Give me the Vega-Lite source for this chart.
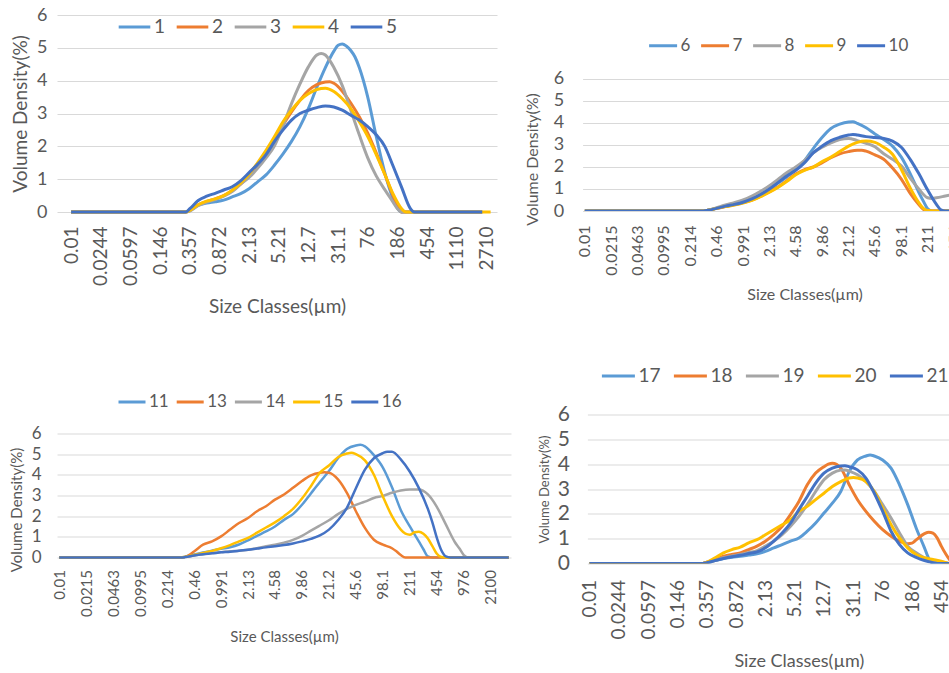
{
"$schema": "https://vega.github.io/schema/vega-lite/v6.json",
"padding": {"left": 9, "top": 6, "right": 0, "bottom": 0},
"background": "white",
"config": {
  "font": "Lato",
  "view": {"stroke": null},
  "axis": {"labelColor": "#595959", "titleColor": "#595959", "titleFontWeight": "normal", "domain": false, "ticks": false, "tickSize": 0, "gridColor": "#D9D9D9", "gridWidth": 1, "labelFlush": false, "labelOverlap": false},
  "legend": {"labelColor": "#595959", "symbolType": "stroke", "symbolStrokeWidth": 3, "padding": 0, "labelOffset": 2, "direction": "horizontal", "orient": "none"},
  "line": {"strokeWidth": 3, "interpolate": "monotone"}
},
"data": {"values": [
{"p":1,"s":"1","d":0.01,"v":0},{"p":1,"s":"1","d":0.314,"v":0},{"p":1,"s":"1","d":0.357,"v":0.05},{"p":1,"s":"1","d":0.46,"v":0.2},{"p":1,"s":"1","d":0.594,"v":0.27},{"p":1,"s":"1","d":0.767,"v":0.31},{"p":1,"s":"1","d":0.991,"v":0.36},{"p":1,"s":"1","d":1.28,"v":0.46},{"p":1,"s":"1","d":1.65,"v":0.56},{"p":1,"s":"1","d":2.13,"v":0.71},{"p":1,"s":"1","d":2.75,"v":0.92},{"p":1,"s":"1","d":3.55,"v":1.13},{"p":1,"s":"1","d":4.58,"v":1.43},{"p":1,"s":"1","d":5.92,"v":1.77},{"p":1,"s":"1","d":7.64,"v":2.15},{"p":1,"s":"1","d":9.86,"v":2.6},{"p":1,"s":"1","d":12.7,"v":3.15},{"p":1,"s":"1","d":16.4,"v":3.8},{"p":1,"s":"1","d":21.2,"v":4.4},{"p":1,"s":"1","d":27.4,"v":4.9},{"p":1,"s":"1","d":31.1,"v":5.08},{"p":1,"s":"1","d":35.3,"v":5.12},{"p":1,"s":"1","d":40.1,"v":5.05},{"p":1,"s":"1","d":45.6,"v":4.92},{"p":1,"s":"1","d":51.8,"v":4.72},{"p":1,"s":"1","d":58.9,"v":4.4},{"p":1,"s":"1","d":76,"v":3.5},{"p":1,"s":"1","d":98.1,"v":2.3},{"p":1,"s":"1","d":127,"v":1.2},{"p":1,"s":"1","d":163,"v":0.4},{"p":1,"s":"1","d":186,"v":0.12},{"p":1,"s":"1","d":211,"v":0},{"p":1,"s":"1","d":2390,"v":0},
{"p":1,"s":"2","d":0.01,"v":0},{"p":1,"s":"2","d":0.314,"v":0},{"p":1,"s":"2","d":0.357,"v":0.05},{"p":1,"s":"2","d":0.46,"v":0.22},{"p":1,"s":"2","d":0.594,"v":0.32},{"p":1,"s":"2","d":0.767,"v":0.4},{"p":1,"s":"2","d":0.991,"v":0.5},{"p":1,"s":"2","d":1.28,"v":0.65},{"p":1,"s":"2","d":1.65,"v":0.85},{"p":1,"s":"2","d":2.13,"v":1.1},{"p":1,"s":"2","d":2.75,"v":1.45},{"p":1,"s":"2","d":3.55,"v":1.8},{"p":1,"s":"2","d":4.58,"v":2.2},{"p":1,"s":"2","d":5.92,"v":2.65},{"p":1,"s":"2","d":7.64,"v":3.05},{"p":1,"s":"2","d":9.86,"v":3.4},{"p":1,"s":"2","d":12.7,"v":3.7},{"p":1,"s":"2","d":16.4,"v":3.88},{"p":1,"s":"2","d":21.2,"v":3.96},{"p":1,"s":"2","d":24.1,"v":3.97},{"p":1,"s":"2","d":27.4,"v":3.92},{"p":1,"s":"2","d":35.3,"v":3.68},{"p":1,"s":"2","d":45.6,"v":3.32},{"p":1,"s":"2","d":58.9,"v":2.9},{"p":1,"s":"2","d":76,"v":2.4},{"p":1,"s":"2","d":98.1,"v":1.8},{"p":1,"s":"2","d":127,"v":1.15},{"p":1,"s":"2","d":163,"v":0.5},{"p":1,"s":"2","d":186,"v":0.2},{"p":1,"s":"2","d":211,"v":0},{"p":1,"s":"2","d":2390,"v":0},
{"p":1,"s":"3","d":0.01,"v":0},{"p":1,"s":"3","d":0.314,"v":0},{"p":1,"s":"3","d":0.357,"v":0.03},{"p":1,"s":"3","d":0.46,"v":0.2},{"p":1,"s":"3","d":0.594,"v":0.3},{"p":1,"s":"3","d":0.767,"v":0.38},{"p":1,"s":"3","d":0.991,"v":0.48},{"p":1,"s":"3","d":1.28,"v":0.62},{"p":1,"s":"3","d":1.65,"v":0.85},{"p":1,"s":"3","d":2.13,"v":1.05},{"p":1,"s":"3","d":2.75,"v":1.33},{"p":1,"s":"3","d":3.55,"v":1.65},{"p":1,"s":"3","d":4.58,"v":2.02},{"p":1,"s":"3","d":5.92,"v":2.62},{"p":1,"s":"3","d":7.64,"v":3.3},{"p":1,"s":"3","d":9.86,"v":3.9},{"p":1,"s":"3","d":12.7,"v":4.42},{"p":1,"s":"3","d":16.4,"v":4.78},{"p":1,"s":"3","d":18.7,"v":4.83},{"p":1,"s":"3","d":21.2,"v":4.78},{"p":1,"s":"3","d":27.4,"v":4.4},{"p":1,"s":"3","d":35.3,"v":3.85},{"p":1,"s":"3","d":45.6,"v":3.1},{"p":1,"s":"3","d":58.9,"v":2.35},{"p":1,"s":"3","d":76,"v":1.65},{"p":1,"s":"3","d":98.1,"v":1.1},{"p":1,"s":"3","d":127,"v":0.68},{"p":1,"s":"3","d":163,"v":0.3},{"p":1,"s":"3","d":186,"v":0.1},{"p":1,"s":"3","d":211,"v":0},{"p":1,"s":"3","d":2390,"v":0},
{"p":1,"s":"4","d":0.01,"v":0},{"p":1,"s":"4","d":0.314,"v":0},{"p":1,"s":"4","d":0.357,"v":0.05},{"p":1,"s":"4","d":0.46,"v":0.22},{"p":1,"s":"4","d":0.594,"v":0.33},{"p":1,"s":"4","d":0.767,"v":0.4},{"p":1,"s":"4","d":0.991,"v":0.5},{"p":1,"s":"4","d":1.28,"v":0.66},{"p":1,"s":"4","d":1.65,"v":0.88},{"p":1,"s":"4","d":2.13,"v":1.15},{"p":1,"s":"4","d":2.75,"v":1.5},{"p":1,"s":"4","d":3.55,"v":1.88},{"p":1,"s":"4","d":4.58,"v":2.3},{"p":1,"s":"4","d":5.92,"v":2.75},{"p":1,"s":"4","d":7.64,"v":3.1},{"p":1,"s":"4","d":9.86,"v":3.4},{"p":1,"s":"4","d":12.7,"v":3.6},{"p":1,"s":"4","d":16.4,"v":3.73},{"p":1,"s":"4","d":21.2,"v":3.77},{"p":1,"s":"4","d":27.4,"v":3.67},{"p":1,"s":"4","d":35.3,"v":3.45},{"p":1,"s":"4","d":45.6,"v":3.15},{"p":1,"s":"4","d":58.9,"v":2.75},{"p":1,"s":"4","d":76,"v":2.3},{"p":1,"s":"4","d":98.1,"v":1.75},{"p":1,"s":"4","d":127,"v":1.15},{"p":1,"s":"4","d":163,"v":0.55},{"p":1,"s":"4","d":211,"v":0.1},{"p":1,"s":"4","d":240,"v":0},{"p":1,"s":"4","d":3080,"v":0},
{"p":1,"s":"5","d":0.01,"v":0},{"p":1,"s":"5","d":0.314,"v":0},{"p":1,"s":"5","d":0.357,"v":0.1},{"p":1,"s":"5","d":0.46,"v":0.35},{"p":1,"s":"5","d":0.594,"v":0.48},{"p":1,"s":"5","d":0.767,"v":0.57},{"p":1,"s":"5","d":0.991,"v":0.67},{"p":1,"s":"5","d":1.28,"v":0.77},{"p":1,"s":"5","d":1.65,"v":0.95},{"p":1,"s":"5","d":2.13,"v":1.2},{"p":1,"s":"5","d":2.75,"v":1.45},{"p":1,"s":"5","d":3.55,"v":1.75},{"p":1,"s":"5","d":4.58,"v":2.15},{"p":1,"s":"5","d":5.92,"v":2.5},{"p":1,"s":"5","d":7.64,"v":2.8},{"p":1,"s":"5","d":9.86,"v":3.0},{"p":1,"s":"5","d":12.7,"v":3.1},{"p":1,"s":"5","d":16.4,"v":3.18},{"p":1,"s":"5","d":21.2,"v":3.23},{"p":1,"s":"5","d":27.4,"v":3.2},{"p":1,"s":"5","d":35.3,"v":3.1},{"p":1,"s":"5","d":45.6,"v":2.95},{"p":1,"s":"5","d":58.9,"v":2.8},{"p":1,"s":"5","d":76,"v":2.6},{"p":1,"s":"5","d":98.1,"v":2.35},{"p":1,"s":"5","d":127,"v":2.0},{"p":1,"s":"5","d":163,"v":1.4},{"p":1,"s":"5","d":211,"v":0.75},{"p":1,"s":"5","d":272,"v":0.12},{"p":1,"s":"5","d":310,"v":0},{"p":1,"s":"5","d":2390,"v":0},
{"p":2,"s":"6","d":0.01,"v":0},{"p":2,"s":"6","d":0.314,"v":0},{"p":2,"s":"6","d":0.357,"v":0.03},{"p":2,"s":"6","d":0.46,"v":0.13},{"p":2,"s":"6","d":0.594,"v":0.22},{"p":2,"s":"6","d":0.767,"v":0.3},{"p":2,"s":"6","d":0.991,"v":0.42},{"p":2,"s":"6","d":1.28,"v":0.55},{"p":2,"s":"6","d":1.65,"v":0.75},{"p":2,"s":"6","d":2.13,"v":0.98},{"p":2,"s":"6","d":2.75,"v":1.28},{"p":2,"s":"6","d":3.55,"v":1.55},{"p":2,"s":"6","d":4.58,"v":1.9},{"p":2,"s":"6","d":5.92,"v":2.3},{"p":2,"s":"6","d":7.64,"v":2.85},{"p":2,"s":"6","d":9.86,"v":3.35},{"p":2,"s":"6","d":12.7,"v":3.75},{"p":2,"s":"6","d":16.4,"v":3.95},{"p":2,"s":"6","d":21.2,"v":4.05},{"p":2,"s":"6","d":24.1,"v":4.06},{"p":2,"s":"6","d":27.4,"v":3.98},{"p":2,"s":"6","d":35.3,"v":3.78},{"p":2,"s":"6","d":45.6,"v":3.5},{"p":2,"s":"6","d":58.9,"v":3.25},{"p":2,"s":"6","d":76,"v":2.95},{"p":2,"s":"6","d":98.1,"v":2.45},{"p":2,"s":"6","d":127,"v":1.7},{"p":2,"s":"6","d":163,"v":0.85},{"p":2,"s":"6","d":186,"v":0.45},{"p":2,"s":"6","d":211,"v":0.1},{"p":2,"s":"6","d":240,"v":0},{"p":2,"s":"6","d":2390,"v":0},
{"p":2,"s":"7","d":0.01,"v":0},{"p":2,"s":"7","d":0.314,"v":0},{"p":2,"s":"7","d":0.357,"v":0.03},{"p":2,"s":"7","d":0.46,"v":0.12},{"p":2,"s":"7","d":0.594,"v":0.2},{"p":2,"s":"7","d":0.767,"v":0.28},{"p":2,"s":"7","d":0.991,"v":0.38},{"p":2,"s":"7","d":1.28,"v":0.5},{"p":2,"s":"7","d":1.65,"v":0.68},{"p":2,"s":"7","d":2.13,"v":0.88},{"p":2,"s":"7","d":2.75,"v":1.1},{"p":2,"s":"7","d":3.55,"v":1.38},{"p":2,"s":"7","d":4.58,"v":1.68},{"p":2,"s":"7","d":5.92,"v":1.88},{"p":2,"s":"7","d":7.64,"v":2.0},{"p":2,"s":"7","d":9.86,"v":2.2},{"p":2,"s":"7","d":12.7,"v":2.42},{"p":2,"s":"7","d":16.4,"v":2.6},{"p":2,"s":"7","d":21.2,"v":2.7},{"p":2,"s":"7","d":27.4,"v":2.76},{"p":2,"s":"7","d":31.1,"v":2.76},{"p":2,"s":"7","d":35.3,"v":2.72},{"p":2,"s":"7","d":45.6,"v":2.55},{"p":2,"s":"7","d":58.9,"v":2.35},{"p":2,"s":"7","d":76,"v":1.95},{"p":2,"s":"7","d":98.1,"v":1.45},{"p":2,"s":"7","d":127,"v":0.8},{"p":2,"s":"7","d":163,"v":0.3},{"p":2,"s":"7","d":186,"v":0.08},{"p":2,"s":"7","d":211,"v":0},{"p":2,"s":"7","d":2390,"v":0},
{"p":2,"s":"8","d":0.01,"v":0},{"p":2,"s":"8","d":0.314,"v":0},{"p":2,"s":"8","d":0.357,"v":0.04},{"p":2,"s":"8","d":0.46,"v":0.15},{"p":2,"s":"8","d":0.594,"v":0.28},{"p":2,"s":"8","d":0.767,"v":0.38},{"p":2,"s":"8","d":0.991,"v":0.5},{"p":2,"s":"8","d":1.28,"v":0.68},{"p":2,"s":"8","d":1.65,"v":0.9},{"p":2,"s":"8","d":2.13,"v":1.15},{"p":2,"s":"8","d":2.75,"v":1.45},{"p":2,"s":"8","d":3.55,"v":1.75},{"p":2,"s":"8","d":4.58,"v":2.0},{"p":2,"s":"8","d":5.92,"v":2.3},{"p":2,"s":"8","d":7.64,"v":2.65},{"p":2,"s":"8","d":9.86,"v":2.9},{"p":2,"s":"8","d":12.7,"v":3.1},{"p":2,"s":"8","d":16.4,"v":3.25},{"p":2,"s":"8","d":21.2,"v":3.3},{"p":2,"s":"8","d":27.4,"v":3.2},{"p":2,"s":"8","d":35.3,"v":3.08},{"p":2,"s":"8","d":45.6,"v":2.92},{"p":2,"s":"8","d":58.9,"v":2.6},{"p":2,"s":"8","d":76,"v":2.35},{"p":2,"s":"8","d":98.1,"v":2.05},{"p":2,"s":"8","d":127,"v":1.5},{"p":2,"s":"8","d":163,"v":1.0},{"p":2,"s":"8","d":211,"v":0.6},{"p":2,"s":"8","d":240,"v":0.57},{"p":2,"s":"8","d":272,"v":0.6},{"p":2,"s":"8","d":352,"v":0.68},{"p":2,"s":"8","d":454,"v":0.76},
{"p":2,"s":"9","d":0.01,"v":0},{"p":2,"s":"9","d":0.314,"v":0},{"p":2,"s":"9","d":0.357,"v":0.03},{"p":2,"s":"9","d":0.46,"v":0.12},{"p":2,"s":"9","d":0.594,"v":0.2},{"p":2,"s":"9","d":0.767,"v":0.27},{"p":2,"s":"9","d":0.991,"v":0.36},{"p":2,"s":"9","d":1.28,"v":0.48},{"p":2,"s":"9","d":1.65,"v":0.65},{"p":2,"s":"9","d":2.13,"v":0.85},{"p":2,"s":"9","d":2.75,"v":1.08},{"p":2,"s":"9","d":3.55,"v":1.35},{"p":2,"s":"9","d":4.58,"v":1.65},{"p":2,"s":"9","d":5.92,"v":1.85},{"p":2,"s":"9","d":7.64,"v":2.0},{"p":2,"s":"9","d":9.86,"v":2.25},{"p":2,"s":"9","d":12.7,"v":2.45},{"p":2,"s":"9","d":16.4,"v":2.7},{"p":2,"s":"9","d":21.2,"v":2.95},{"p":2,"s":"9","d":27.4,"v":3.12},{"p":2,"s":"9","d":35.3,"v":3.18},{"p":2,"s":"9","d":45.6,"v":3.12},{"p":2,"s":"9","d":58.9,"v":2.9},{"p":2,"s":"9","d":76,"v":2.58},{"p":2,"s":"9","d":98.1,"v":1.9},{"p":2,"s":"9","d":127,"v":1.05},{"p":2,"s":"9","d":163,"v":0.38},{"p":2,"s":"9","d":186,"v":0.12},{"p":2,"s":"9","d":211,"v":0.02},{"p":2,"s":"9","d":240,"v":0},{"p":2,"s":"9","d":2390,"v":0},
{"p":2,"s":"10","d":0.01,"v":0},{"p":2,"s":"10","d":0.314,"v":0},{"p":2,"s":"10","d":0.357,"v":0.03},{"p":2,"s":"10","d":0.46,"v":0.12},{"p":2,"s":"10","d":0.594,"v":0.22},{"p":2,"s":"10","d":0.767,"v":0.3},{"p":2,"s":"10","d":0.991,"v":0.4},{"p":2,"s":"10","d":1.28,"v":0.55},{"p":2,"s":"10","d":1.65,"v":0.75},{"p":2,"s":"10","d":2.13,"v":1.0},{"p":2,"s":"10","d":2.75,"v":1.3},{"p":2,"s":"10","d":3.55,"v":1.6},{"p":2,"s":"10","d":4.58,"v":1.85},{"p":2,"s":"10","d":5.92,"v":2.2},{"p":2,"s":"10","d":7.64,"v":2.65},{"p":2,"s":"10","d":9.86,"v":2.95},{"p":2,"s":"10","d":12.7,"v":3.2},{"p":2,"s":"10","d":16.4,"v":3.35},{"p":2,"s":"10","d":21.2,"v":3.45},{"p":2,"s":"10","d":24.1,"v":3.48},{"p":2,"s":"10","d":27.4,"v":3.45},{"p":2,"s":"10","d":35.3,"v":3.38},{"p":2,"s":"10","d":45.6,"v":3.34},{"p":2,"s":"10","d":58.9,"v":3.3},{"p":2,"s":"10","d":76,"v":3.18},{"p":2,"s":"10","d":98.1,"v":2.9},{"p":2,"s":"10","d":127,"v":2.35},{"p":2,"s":"10","d":163,"v":1.7},{"p":2,"s":"10","d":211,"v":0.95},{"p":2,"s":"10","d":272,"v":0.3},{"p":2,"s":"10","d":310,"v":0.05},{"p":2,"s":"10","d":352,"v":0},{"p":2,"s":"10","d":2390,"v":0},
{"p":3,"s":"11","d":0.01,"v":0},{"p":3,"s":"11","d":0.314,"v":0},{"p":3,"s":"11","d":0.357,"v":0.03},{"p":3,"s":"11","d":0.46,"v":0.15},{"p":3,"s":"11","d":0.594,"v":0.24},{"p":3,"s":"11","d":0.767,"v":0.33},{"p":3,"s":"11","d":0.991,"v":0.42},{"p":3,"s":"11","d":1.28,"v":0.5},{"p":3,"s":"11","d":1.65,"v":0.63},{"p":3,"s":"11","d":2.13,"v":0.83},{"p":3,"s":"11","d":2.75,"v":1.05},{"p":3,"s":"11","d":3.55,"v":1.26},{"p":3,"s":"11","d":4.58,"v":1.5},{"p":3,"s":"11","d":5.92,"v":1.82},{"p":3,"s":"11","d":7.64,"v":2.1},{"p":3,"s":"11","d":9.86,"v":2.55},{"p":3,"s":"11","d":12.7,"v":3.1},{"p":3,"s":"11","d":16.4,"v":3.65},{"p":3,"s":"11","d":21.2,"v":4.18},{"p":3,"s":"11","d":27.4,"v":4.8},{"p":3,"s":"11","d":35.3,"v":5.25},{"p":3,"s":"11","d":45.6,"v":5.42},{"p":3,"s":"11","d":51.8,"v":5.45},{"p":3,"s":"11","d":58.9,"v":5.38},{"p":3,"s":"11","d":76,"v":4.95},{"p":3,"s":"11","d":98.1,"v":4.35},{"p":3,"s":"11","d":127,"v":3.4},{"p":3,"s":"11","d":163,"v":2.3},{"p":3,"s":"11","d":211,"v":1.5},{"p":3,"s":"11","d":272,"v":0.78},{"p":3,"s":"11","d":310,"v":0.4},{"p":3,"s":"11","d":352,"v":0.05},{"p":3,"s":"11","d":400,"v":0},{"p":3,"s":"11","d":3500,"v":0},
{"p":3,"s":"13","d":0.01,"v":0},{"p":3,"s":"13","d":0.314,"v":0},{"p":3,"s":"13","d":0.357,"v":0.03},{"p":3,"s":"13","d":0.46,"v":0.29},{"p":3,"s":"13","d":0.594,"v":0.62},{"p":3,"s":"13","d":0.767,"v":0.78},{"p":3,"s":"13","d":0.991,"v":1.02},{"p":3,"s":"13","d":1.28,"v":1.35},{"p":3,"s":"13","d":1.65,"v":1.67},{"p":3,"s":"13","d":2.13,"v":1.91},{"p":3,"s":"13","d":2.75,"v":2.24},{"p":3,"s":"13","d":3.55,"v":2.48},{"p":3,"s":"13","d":4.58,"v":2.8},{"p":3,"s":"13","d":5.92,"v":3.05},{"p":3,"s":"13","d":7.64,"v":3.37},{"p":3,"s":"13","d":9.86,"v":3.7},{"p":3,"s":"13","d":12.7,"v":3.97},{"p":3,"s":"13","d":16.4,"v":4.1},{"p":3,"s":"13","d":18.7,"v":4.12},{"p":3,"s":"13","d":21.2,"v":4.1},{"p":3,"s":"13","d":27.4,"v":3.78},{"p":3,"s":"13","d":35.3,"v":3.13},{"p":3,"s":"13","d":45.6,"v":2.24},{"p":3,"s":"13","d":58.9,"v":1.43},{"p":3,"s":"13","d":76,"v":0.86},{"p":3,"s":"13","d":98.1,"v":0.62},{"p":3,"s":"13","d":127,"v":0.45},{"p":3,"s":"13","d":144,"v":0.3},{"p":3,"s":"13","d":163,"v":0.12},{"p":3,"s":"13","d":186,"v":0},{"p":3,"s":"13","d":3500,"v":0},
{"p":3,"s":"14","d":0.01,"v":0},{"p":3,"s":"14","d":0.314,"v":0},{"p":3,"s":"14","d":0.357,"v":0.02},{"p":3,"s":"14","d":0.46,"v":0.1},{"p":3,"s":"14","d":0.594,"v":0.16},{"p":3,"s":"14","d":0.767,"v":0.22},{"p":3,"s":"14","d":0.991,"v":0.26},{"p":3,"s":"14","d":1.28,"v":0.3},{"p":3,"s":"14","d":1.65,"v":0.33},{"p":3,"s":"14","d":2.13,"v":0.38},{"p":3,"s":"14","d":2.75,"v":0.45},{"p":3,"s":"14","d":3.55,"v":0.55},{"p":3,"s":"14","d":4.58,"v":0.62},{"p":3,"s":"14","d":5.92,"v":0.72},{"p":3,"s":"14","d":7.64,"v":0.85},{"p":3,"s":"14","d":9.86,"v":1.05},{"p":3,"s":"14","d":12.7,"v":1.3},{"p":3,"s":"14","d":16.4,"v":1.55},{"p":3,"s":"14","d":21.2,"v":1.8},{"p":3,"s":"14","d":27.4,"v":2.1},{"p":3,"s":"14","d":35.3,"v":2.35},{"p":3,"s":"14","d":45.6,"v":2.55},{"p":3,"s":"14","d":58.9,"v":2.7},{"p":3,"s":"14","d":76,"v":2.88},{"p":3,"s":"14","d":98.1,"v":2.98},{"p":3,"s":"14","d":127,"v":3.13},{"p":3,"s":"14","d":163,"v":3.24},{"p":3,"s":"14","d":211,"v":3.29},{"p":3,"s":"14","d":272,"v":3.29},{"p":3,"s":"14","d":352,"v":3.05},{"p":3,"s":"14","d":454,"v":2.45},{"p":3,"s":"14","d":586,"v":1.6},{"p":3,"s":"14","d":756,"v":0.75},{"p":3,"s":"14","d":859,"v":0.45},{"p":3,"s":"14","d":976,"v":0.12},{"p":3,"s":"14","d":1110,"v":0},{"p":3,"s":"14","d":3500,"v":0},
{"p":3,"s":"15","d":0.01,"v":0},{"p":3,"s":"15","d":0.314,"v":0},{"p":3,"s":"15","d":0.357,"v":0.03},{"p":3,"s":"15","d":0.46,"v":0.12},{"p":3,"s":"15","d":0.594,"v":0.22},{"p":3,"s":"15","d":0.767,"v":0.32},{"p":3,"s":"15","d":0.991,"v":0.45},{"p":3,"s":"15","d":1.28,"v":0.6},{"p":3,"s":"15","d":1.65,"v":0.78},{"p":3,"s":"15","d":2.13,"v":0.95},{"p":3,"s":"15","d":2.75,"v":1.2},{"p":3,"s":"15","d":3.55,"v":1.45},{"p":3,"s":"15","d":4.58,"v":1.7},{"p":3,"s":"15","d":5.92,"v":2.0},{"p":3,"s":"15","d":7.64,"v":2.35},{"p":3,"s":"15","d":9.86,"v":2.85},{"p":3,"s":"15","d":12.7,"v":3.45},{"p":3,"s":"15","d":16.4,"v":4.1},{"p":3,"s":"15","d":21.2,"v":4.45},{"p":3,"s":"15","d":27.4,"v":4.85},{"p":3,"s":"15","d":35.3,"v":5.03},{"p":3,"s":"15","d":40.1,"v":5.07},{"p":3,"s":"15","d":45.6,"v":5.0},{"p":3,"s":"15","d":58.9,"v":4.7},{"p":3,"s":"15","d":76,"v":4.0},{"p":3,"s":"15","d":98.1,"v":2.95},{"p":3,"s":"15","d":127,"v":2.0},{"p":3,"s":"15","d":163,"v":1.35},{"p":3,"s":"15","d":186,"v":1.15},{"p":3,"s":"15","d":211,"v":1.1},{"p":3,"s":"15","d":240,"v":1.22},{"p":3,"s":"15","d":272,"v":1.25},{"p":3,"s":"15","d":310,"v":1.15},{"p":3,"s":"15","d":352,"v":0.92},{"p":3,"s":"15","d":400,"v":0.55},{"p":3,"s":"15","d":454,"v":0.18},{"p":3,"s":"15","d":516,"v":0.02},{"p":3,"s":"15","d":586,"v":0},{"p":3,"s":"15","d":3500,"v":0},
{"p":3,"s":"16","d":0.01,"v":0},{"p":3,"s":"16","d":0.314,"v":0},{"p":3,"s":"16","d":0.357,"v":0.02},{"p":3,"s":"16","d":0.46,"v":0.1},{"p":3,"s":"16","d":0.594,"v":0.16},{"p":3,"s":"16","d":0.767,"v":0.2},{"p":3,"s":"16","d":0.991,"v":0.25},{"p":3,"s":"16","d":1.28,"v":0.28},{"p":3,"s":"16","d":1.65,"v":0.33},{"p":3,"s":"16","d":2.13,"v":0.37},{"p":3,"s":"16","d":2.75,"v":0.43},{"p":3,"s":"16","d":3.55,"v":0.49},{"p":3,"s":"16","d":4.58,"v":0.54},{"p":3,"s":"16","d":5.92,"v":0.6},{"p":3,"s":"16","d":7.64,"v":0.68},{"p":3,"s":"16","d":9.86,"v":0.78},{"p":3,"s":"16","d":12.7,"v":0.9},{"p":3,"s":"16","d":16.4,"v":1.07},{"p":3,"s":"16","d":21.2,"v":1.35},{"p":3,"s":"16","d":27.4,"v":1.8},{"p":3,"s":"16","d":35.3,"v":2.4},{"p":3,"s":"16","d":45.6,"v":3.35},{"p":3,"s":"16","d":58.9,"v":4.25},{"p":3,"s":"16","d":76,"v":4.8},{"p":3,"s":"16","d":98.1,"v":5.05},{"p":3,"s":"16","d":111,"v":5.12},{"p":3,"s":"16","d":127,"v":5.12},{"p":3,"s":"16","d":163,"v":4.75},{"p":3,"s":"16","d":211,"v":4.15},{"p":3,"s":"16","d":272,"v":3.37},{"p":3,"s":"16","d":352,"v":2.35},{"p":3,"s":"16","d":400,"v":1.7},{"p":3,"s":"16","d":454,"v":0.95},{"p":3,"s":"16","d":516,"v":0.35},{"p":3,"s":"16","d":586,"v":0.05},{"p":3,"s":"16","d":666,"v":0},{"p":3,"s":"16","d":3500,"v":0},
{"p":4,"s":"17","d":0.01,"v":0},{"p":4,"s":"17","d":0.314,"v":0},{"p":4,"s":"17","d":0.357,"v":0.03},{"p":4,"s":"17","d":0.46,"v":0.12},{"p":4,"s":"17","d":0.594,"v":0.2},{"p":4,"s":"17","d":0.767,"v":0.25},{"p":4,"s":"17","d":0.991,"v":0.29},{"p":4,"s":"17","d":1.28,"v":0.34},{"p":4,"s":"17","d":1.65,"v":0.39},{"p":4,"s":"17","d":2.13,"v":0.49},{"p":4,"s":"17","d":2.75,"v":0.63},{"p":4,"s":"17","d":3.55,"v":0.76},{"p":4,"s":"17","d":4.58,"v":0.9},{"p":4,"s":"17","d":5.92,"v":1.03},{"p":4,"s":"17","d":7.64,"v":1.3},{"p":4,"s":"17","d":9.86,"v":1.63},{"p":4,"s":"17","d":12.7,"v":2.03},{"p":4,"s":"17","d":16.4,"v":2.43},{"p":4,"s":"17","d":21.2,"v":2.9},{"p":4,"s":"17","d":27.4,"v":3.7},{"p":4,"s":"17","d":35.3,"v":4.17},{"p":4,"s":"17","d":45.6,"v":4.33},{"p":4,"s":"17","d":51.8,"v":4.37},{"p":4,"s":"17","d":58.9,"v":4.33},{"p":4,"s":"17","d":76,"v":4.17},{"p":4,"s":"17","d":98.1,"v":3.84},{"p":4,"s":"17","d":127,"v":3.17},{"p":4,"s":"17","d":163,"v":2.37},{"p":4,"s":"17","d":211,"v":1.43},{"p":4,"s":"17","d":272,"v":0.63},{"p":4,"s":"17","d":310,"v":0.2},{"p":4,"s":"17","d":352,"v":0},{"p":4,"s":"17","d":2390,"v":0},
{"p":4,"s":"18","d":0.01,"v":0},{"p":4,"s":"18","d":0.314,"v":0},{"p":4,"s":"18","d":0.357,"v":0.05},{"p":4,"s":"18","d":0.46,"v":0.16},{"p":4,"s":"18","d":0.594,"v":0.29},{"p":4,"s":"18","d":0.767,"v":0.36},{"p":4,"s":"18","d":0.991,"v":0.43},{"p":4,"s":"18","d":1.28,"v":0.56},{"p":4,"s":"18","d":1.65,"v":0.7},{"p":4,"s":"18","d":2.13,"v":0.9},{"p":4,"s":"18","d":2.75,"v":1.16},{"p":4,"s":"18","d":3.55,"v":1.5},{"p":4,"s":"18","d":4.58,"v":1.97},{"p":4,"s":"18","d":5.92,"v":2.5},{"p":4,"s":"18","d":7.64,"v":3.17},{"p":4,"s":"18","d":9.86,"v":3.64},{"p":4,"s":"18","d":12.7,"v":3.9},{"p":4,"s":"18","d":14.5,"v":4.0},{"p":4,"s":"18","d":16.4,"v":4.04},{"p":4,"s":"18","d":21.2,"v":3.84},{"p":4,"s":"18","d":27.4,"v":3.17},{"p":4,"s":"18","d":35.3,"v":2.57},{"p":4,"s":"18","d":45.6,"v":2.1},{"p":4,"s":"18","d":58.9,"v":1.7},{"p":4,"s":"18","d":76,"v":1.36},{"p":4,"s":"18","d":98.1,"v":1.1},{"p":4,"s":"18","d":127,"v":0.9},{"p":4,"s":"18","d":163,"v":0.8},{"p":4,"s":"18","d":186,"v":0.82},{"p":4,"s":"18","d":211,"v":0.95},{"p":4,"s":"18","d":272,"v":1.2},{"p":4,"s":"18","d":310,"v":1.26},{"p":4,"s":"18","d":352,"v":1.22},{"p":4,"s":"18","d":400,"v":1.03},{"p":4,"s":"18","d":454,"v":0.7},{"p":4,"s":"18","d":516,"v":0.4},{"p":4,"s":"18","d":586,"v":0.15},{"p":4,"s":"18","d":666,"v":0},{"p":4,"s":"18","d":2390,"v":0},
{"p":4,"s":"19","d":0.01,"v":0},{"p":4,"s":"19","d":0.314,"v":0},{"p":4,"s":"19","d":0.357,"v":0.03},{"p":4,"s":"19","d":0.46,"v":0.12},{"p":4,"s":"19","d":0.594,"v":0.23},{"p":4,"s":"19","d":0.767,"v":0.3},{"p":4,"s":"19","d":0.991,"v":0.36},{"p":4,"s":"19","d":1.28,"v":0.44},{"p":4,"s":"19","d":1.65,"v":0.52},{"p":4,"s":"19","d":2.13,"v":0.7},{"p":4,"s":"19","d":2.75,"v":0.9},{"p":4,"s":"19","d":3.55,"v":1.16},{"p":4,"s":"19","d":4.58,"v":1.5},{"p":4,"s":"19","d":5.92,"v":1.9},{"p":4,"s":"19","d":7.64,"v":2.37},{"p":4,"s":"19","d":9.86,"v":2.9},{"p":4,"s":"19","d":12.7,"v":3.37},{"p":4,"s":"19","d":16.4,"v":3.64},{"p":4,"s":"19","d":21.2,"v":3.76},{"p":4,"s":"19","d":24.1,"v":3.77},{"p":4,"s":"19","d":27.4,"v":3.72},{"p":4,"s":"19","d":35.3,"v":3.57},{"p":4,"s":"19","d":45.6,"v":3.3},{"p":4,"s":"19","d":58.9,"v":2.9},{"p":4,"s":"19","d":76,"v":2.37},{"p":4,"s":"19","d":98.1,"v":1.83},{"p":4,"s":"19","d":127,"v":1.23},{"p":4,"s":"19","d":163,"v":0.7},{"p":4,"s":"19","d":211,"v":0.43},{"p":4,"s":"19","d":272,"v":0.23},{"p":4,"s":"19","d":352,"v":0.12},{"p":4,"s":"19","d":454,"v":0.07},{"p":4,"s":"19","d":586,"v":0},{"p":4,"s":"19","d":2390,"v":0},
{"p":4,"s":"20","d":0.01,"v":0},{"p":4,"s":"20","d":0.314,"v":0},{"p":4,"s":"20","d":0.357,"v":0.05},{"p":4,"s":"20","d":0.46,"v":0.23},{"p":4,"s":"20","d":0.594,"v":0.43},{"p":4,"s":"20","d":0.767,"v":0.56},{"p":4,"s":"20","d":0.991,"v":0.66},{"p":4,"s":"20","d":1.28,"v":0.83},{"p":4,"s":"20","d":1.65,"v":0.96},{"p":4,"s":"20","d":2.13,"v":1.16},{"p":4,"s":"20","d":2.75,"v":1.36},{"p":4,"s":"20","d":3.55,"v":1.56},{"p":4,"s":"20","d":4.58,"v":1.76},{"p":4,"s":"20","d":5.92,"v":2.1},{"p":4,"s":"20","d":7.64,"v":2.3},{"p":4,"s":"20","d":9.86,"v":2.57},{"p":4,"s":"20","d":12.7,"v":2.83},{"p":4,"s":"20","d":16.4,"v":3.1},{"p":4,"s":"20","d":21.2,"v":3.3},{"p":4,"s":"20","d":27.4,"v":3.44},{"p":4,"s":"20","d":31.1,"v":3.46},{"p":4,"s":"20","d":35.3,"v":3.44},{"p":4,"s":"20","d":45.6,"v":3.3},{"p":4,"s":"20","d":58.9,"v":2.9},{"p":4,"s":"20","d":76,"v":2.23},{"p":4,"s":"20","d":98.1,"v":1.56},{"p":4,"s":"20","d":127,"v":1.03},{"p":4,"s":"20","d":163,"v":0.63},{"p":4,"s":"20","d":211,"v":0.36},{"p":4,"s":"20","d":272,"v":0.23},{"p":4,"s":"20","d":352,"v":0.16},{"p":4,"s":"20","d":454,"v":0.09},{"p":4,"s":"20","d":586,"v":0},{"p":4,"s":"20","d":2390,"v":0},
{"p":4,"s":"21","d":0.01,"v":0},{"p":4,"s":"21","d":0.314,"v":0},{"p":4,"s":"21","d":0.357,"v":0.03},{"p":4,"s":"21","d":0.46,"v":0.12},{"p":4,"s":"21","d":0.594,"v":0.2},{"p":4,"s":"21","d":0.767,"v":0.27},{"p":4,"s":"21","d":0.991,"v":0.33},{"p":4,"s":"21","d":1.28,"v":0.4},{"p":4,"s":"21","d":1.65,"v":0.47},{"p":4,"s":"21","d":2.13,"v":0.63},{"p":4,"s":"21","d":2.75,"v":0.9},{"p":4,"s":"21","d":3.55,"v":1.23},{"p":4,"s":"21","d":4.58,"v":1.63},{"p":4,"s":"21","d":5.92,"v":2.17},{"p":4,"s":"21","d":7.64,"v":2.7},{"p":4,"s":"21","d":9.86,"v":3.24},{"p":4,"s":"21","d":12.7,"v":3.64},{"p":4,"s":"21","d":16.4,"v":3.84},{"p":4,"s":"21","d":21.2,"v":3.93},{"p":4,"s":"21","d":24.1,"v":3.94},{"p":4,"s":"21","d":27.4,"v":3.9},{"p":4,"s":"21","d":35.3,"v":3.77},{"p":4,"s":"21","d":45.6,"v":3.44},{"p":4,"s":"21","d":58.9,"v":2.83},{"p":4,"s":"21","d":76,"v":2.1},{"p":4,"s":"21","d":98.1,"v":1.3},{"p":4,"s":"21","d":127,"v":0.76},{"p":4,"s":"21","d":163,"v":0.43},{"p":4,"s":"21","d":211,"v":0.25},{"p":4,"s":"21","d":272,"v":0.12},{"p":4,"s":"21","d":352,"v":0.03},{"p":4,"s":"21","d":400,"v":0},{"p":4,"s":"21","d":2390,"v":0}
]},
"spacing": 40.5,
"resolve": {"scale": {"color": "independent"}},
"vconcat": [
 {"spacing": 26.6, "resolve": {"scale": {"color": "independent"}}, "hconcat": [
  {"width": 440, "height": 197,
   "transform": [{"filter": "datum.p == 1"}],
   "mark": {"type": "line"},
   "encoding": {
    "x": {"field": "d", "type": "quantitative", "scale": {"type": "log", "domain": [0.0065355, 3730.8], "nice": false},
          "axis": {"values": [0.01,0.0244,0.0597,0.146,0.357,0.872,2.13,5.21,12.7,31.1,76,186,454,1110,2710], "format": "~g", "labelAngle": -90, "labelFontSize": 19, "labelPadding": 14, "title": "Size Classes(µm)", "titleFontSize": 19, "titlePadding": 12, "grid": false}},
    "y": {"field": "v", "type": "quantitative", "scale": {"domain": [0, 6], "nice": false},
          "axis": {"values": [0,1,2,3,4,5,6], "labelFontSize": 18, "labelPadding": 10, "title": "Volume Density(%)", "titleFontSize": 19, "titlePadding": 6}},
    "color": {"field": "s", "type": "nominal", "scale": {"domain": ["1","2","3","4","5"], "range": ["#5B9BD5","#ED7D31","#A5A5A5","#FFC000","#4472C4"]},
              "legend": {"title": null, "orient": "none", "direction": "horizontal", "legendX": 60, "legendY": -5.8, "labelFontSize": 19, "symbolSize": 1000, "columnPadding": 4}}
   }},
  {"width": 444, "height": 196,
   "transform": [{"filter": "datum.p == 2"}],
   "mark": {"type": "line", "clip": true},
   "encoding": {
    "x": {"field": "d", "type": "quantitative", "scale": {"type": "log", "domain": [0.0093815, 3730.8], "nice": false},
          "axis": {"values": [0.01,0.0215,0.0463,0.0995,0.214,0.46,0.991,2.13,4.58,9.86,21.2,45.6,98.1,211,454,976,2100], "format": "~g", "labelAngle": -90, "labelFontSize": 16, "labelPadding": 14, "title": "Size Classes(µm)", "titleFontSize": 16, "titlePadding": 11, "grid": false}},
    "y": {"field": "v", "type": "quantitative", "scale": {"domain": [0, 8.909], "nice": false},
          "axis": {"values": [0,1,2,3,4,5,6], "labelFontSize": 18, "labelPadding": 19, "title": "Volume Density(%)", "titleFontSize": 16, "titlePadding": 13, "titleY": 144}},
    "color": {"field": "s", "type": "nominal", "scale": {"domain": ["6","7","8","9","10"], "range": ["#5B9BD5","#ED7D31","#A5A5A5","#FFC000","#4472C4"]},
              "legend": {"title": null, "orient": "none", "direction": "horizontal", "legendX": 65, "legendY": 15, "labelFontSize": 17, "symbolSize": 784, "columnPadding": 4}}
   }}
 ]},
 {"spacing": 23.4, "resolve": {"scale": {"color": "independent"}}, "hconcat": [
  {"width": 454, "height": 143,
   "transform": [{"filter": "datum.p == 3"}],
   "mark": {"type": "line", "strokeWidth": 2.5},
   "encoding": {
    "x": {"field": "d", "type": "quantitative", "scale": {"type": "log", "domain": [0.0093815, 3730.8], "nice": false},
          "axis": {"values": [0.01,0.0215,0.0463,0.0995,0.214,0.46,0.991,2.13,4.58,9.86,21.2,45.6,98.1,211,454,976,2100], "format": "~g", "labelAngle": -90, "labelFontSize": 15, "labelPadding": 12, "title": "Size Classes(µm)", "titleFontSize": 15, "titlePadding": 13, "grid": false}},
    "y": {"field": "v", "type": "quantitative", "scale": {"domain": [0, 6.918], "nice": false},
          "axis": {"values": [0,1,2,3,4,5,6], "labelFontSize": 17, "labelPadding": 16, "title": "Volume Density(%)", "titleFontSize": 15, "titlePadding": 7, "titleY": 95}},
    "color": {"field": "s", "type": "nominal", "scale": {"domain": ["11","13","14","15","16"], "range": ["#5B9BD5","#ED7D31","#A5A5A5","#FFC000","#4472C4"]},
              "legend": {"title": null, "orient": "none", "direction": "horizontal", "legendX": 60, "legendY": -27.5, "labelFontSize": 17, "symbolSize": 729, "columnPadding": 1.2}}
   }},
  {"width": 423, "height": 149,
   "transform": [{"filter": "datum.p == 4"}],
   "mark": {"type": "line", "clip": true},
   "encoding": {
    "x": {"field": "d", "type": "quantitative", "scale": {"type": "log", "domain": [0.0093815, 3730.8], "nice": false},
          "axis": {"values": [0.01,0.0244,0.0597,0.146,0.357,0.872,2.13,5.21,12.7,31.1,76,186,454,1110,2710], "format": "~g", "labelAngle": -90, "labelFontSize": 19, "labelPadding": 16, "title": "Size Classes(µm)", "titleFontSize": 18, "titlePadding": 13, "grid": false}},
    "y": {"field": "v", "type": "quantitative", "scale": {"domain": [0, 6], "nice": false},
          "axis": {"values": [0,1,2,3,4,5,6], "labelFontSize": 21, "labelPadding": 18, "title": "Volume Density(%)", "titleFontSize": 13, "titlePadding": 6}},
    "color": {"field": "s", "type": "nominal", "scale": {"domain": ["17","18","19","20","21"], "range": ["#5B9BD5","#ED7D31","#A5A5A5","#FFC000","#4472C4"]},
              "legend": {"title": null, "orient": "none", "direction": "horizontal", "legendX": 13, "legendY": -56.5, "labelFontSize": 19, "symbolSize": 1089, "columnPadding": 6}}
   }}
 ]}
]
}
